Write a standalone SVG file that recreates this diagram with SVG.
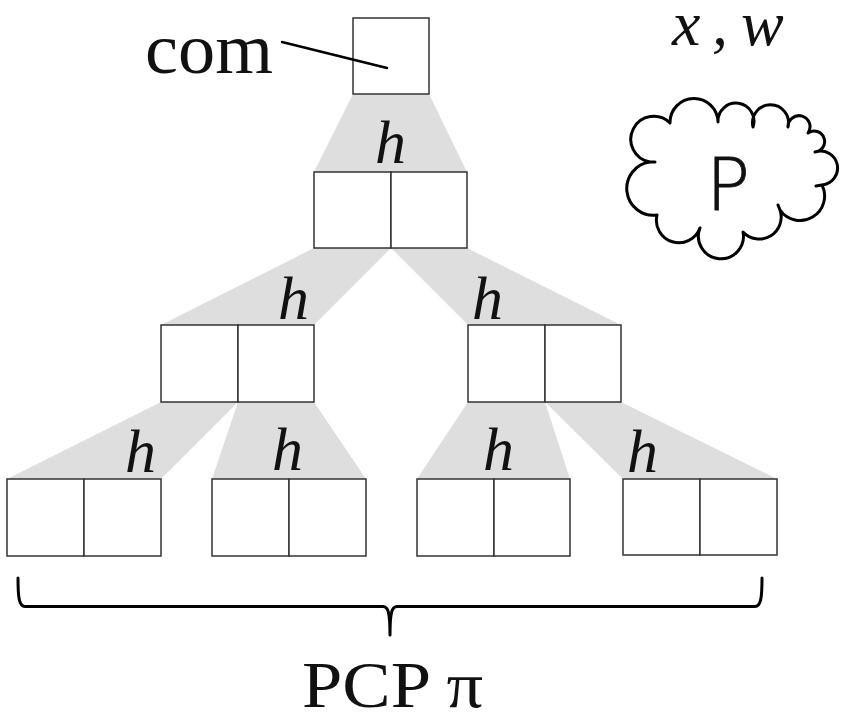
<svg xmlns="http://www.w3.org/2000/svg" width="841" height="718" viewBox="0 0 841 718">
<style>
.box{fill:#fff;stroke:#333;stroke-width:1.5}
.fan{fill:#dedede}
.h{font-family:"Liberation Serif",serif;font-style:italic;font-size:62px;fill:#111}
.serif{font-family:"Liberation Serif",serif;fill:#111}
.ink{fill:none;stroke:#000;stroke-linecap:round;stroke-linejoin:round}
</style>
<rect width="841" height="718" fill="#fff"/>
<g id="connectors">
  <polygon class="fan" points="353,94 429,94 467,172 314,172"/>
  <polygon class="fan" points="314,248 391,248 314,325 161,325"/>
  <polygon class="fan" points="391,248 467,248 621,325 468,325"/>
  <polygon class="fan" points="161,402 238,402 161,479 7,479"/>
  <polygon class="fan" points="238,402 314,402 366,479 212,479"/>
  <polygon class="fan" points="468,402 545,402 570,479 417,479"/>
  <polygon class="fan" points="545,402 621,402 777,479 623,479"/>
  <path class="ink" stroke-width="3" d="M18,578 C18,597 19,606.5 25,606.5 L383,606.5 C388,606.5 390,612 390,635 C390,612 392,606.5 397,606.5 L755,606.5 C761,606.5 762,597 762,578"/>
</g>
<g id="labels-h">
  <text class="h" x="375" y="163">h</text>
  <text class="h" x="278" y="319">h</text>
  <text class="h" x="472" y="319">h</text>
  <text class="h" x="125" y="472">h</text>
  <text class="h" x="272" y="470">h</text>
  <text class="h" x="483" y="470">h</text>
  <text class="h" x="627" y="472">h</text>
</g>
<g id="root">
  <rect class="box" x="353" y="18" width="76" height="76"/>
</g>
<g id="level1">
  <rect class="box" x="314" y="172" width="77" height="76"/>
  <rect class="box" x="391" y="172" width="76" height="76"/>
</g>
<g id="level2-left">
  <rect class="box" x="161" y="325" width="77" height="77"/>
  <rect class="box" x="238" y="325" width="76" height="77"/>
</g>
<g id="level2-right">
  <rect class="box" x="468" y="325" width="77" height="77"/>
  <rect class="box" x="545" y="325" width="76" height="77"/>
</g>
<g id="leaf-a">
  <rect class="box" x="7" y="479" width="77" height="77"/>
  <rect class="box" x="84" y="479" width="77" height="77"/>
</g>
<g id="leaf-b">
  <rect class="box" x="212" y="479" width="77" height="77"/>
  <rect class="box" x="289" y="479" width="77" height="77"/>
</g>
<g id="leaf-c">
  <rect class="box" x="417" y="479" width="77" height="77"/>
  <rect class="box" x="494" y="479" width="76" height="77"/>
</g>
<g id="leaf-d">
  <rect class="box" x="623" y="479" width="77" height="76"/>
  <rect class="box" x="700" y="479" width="77" height="76"/>
</g>
<g id="com-label">
  <text class="serif" x="145" y="73" font-size="72" textLength="128" lengthAdjust="spacingAndGlyphs">com</text>
  <line class="ink" x1="282" y1="42" x2="387" y2="68" stroke-width="2.5"/>
</g>
<g id="xw-label">
  <text class="serif" font-style="italic" font-size="64" y="45"><tspan x="672">x</tspan><tspan x="712">,</tspan><tspan x="741">w</tspan></text>
</g>
<g id="prover">
  <path class="ink" stroke-width="3" d="M650,162 A23,23 0 1 1 670,123 A24,24 0 0 1 718,122 A18,18 0 1 1 753,127 A18,18 0 1 1 788,127 A11,11 0 1 1 808,133 A10.5,10.5 0 1 1 815,152 A17,17 0 1 1 822,185 A24.5,24.5 0 0 1 780,210 A22,22 0 0 1 743,232 A22.5,22.5 0 1 1 700,228 A22.5,22.5 0 0 1 657,215 A26.7,26.7 0 0 1 650,162 M650,162 L655,162 M822,185 L816,186 M780,210 L778,205"/>
  <text x="706" y="210" font-family="DejaVu Sans, sans-serif" font-weight="200" font-size="73" fill="#111" stroke="#111" stroke-width="0.8">P</text>
</g>
<g id="pcp-label">
  <text class="serif" x="302" y="707" font-size="65" textLength="181" lengthAdjust="spacingAndGlyphs">PCP π</text>
</g>
</svg>
